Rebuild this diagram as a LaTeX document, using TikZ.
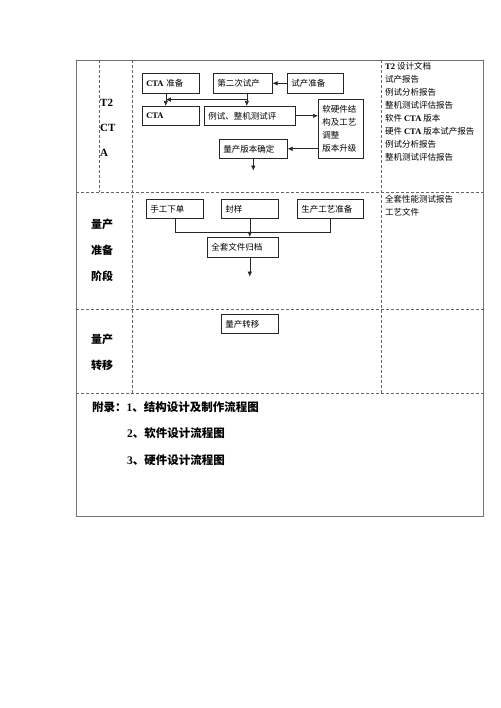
\documentclass[tikz,border=0pt]{standalone}
\usepackage{fontspec}
\setmainfont{Liberation Serif}
\newfontfamily\zh{Noto Sans CJK SC}
\usetikzlibrary{arrows.meta}

\newcommand\en[1]{{\rmfamily\bfseries #1}}

\begin{document}
\begin{tikzpicture}[x=1pt,y=-1pt]
\tikzset{
    frame/.style={draw=black!55, line width=.6pt},
    cell line/.style={black!60, line width=.5pt, dash pattern=on 3pt off 2pt},
    box/.style={draw=black!85, line width=.6pt, anchor=north west, inner xsep=4pt, inner ysep=0pt,
        text width=#1, align=left, minimum height=19pt, font=\zh\fontsize{8.5}{13}\selectfont},
    link/.style={black!85, line width=.6pt, -{Latex[length=5pt,width=4.5pt]}},
    stage/.style={anchor=west, inner sep=0pt, align=left},
    docs/.style={anchor=north west, inner sep=0pt, align=left, font=\zh\fontsize{8.5}{13}\selectfont}}

\useasboundingbox (0,0) rectangle (500,708);

% table
\draw[frame] (76,60) rectangle (483,516);
\foreach \y in {192,309,393}{
    \draw[cell line] (76,\y)--(483,\y);
}
\draw[cell line] (99,60)--(99,192);
\foreach \x in {132,381}{
    \draw[cell line] (\x,60)--(\x,393);
}

% stages
\node[stage, font=\bfseries\fontsize{11}{25}\selectfont] (stcta) at (100,128) {T2\\CT\\A};
\node[stage, font=\zh\bfseries\fontsize{11}{26}\selectfont] (stprep) at (91,250) {量产\\准备\\阶段};
\node[stage, font=\zh\bfseries\fontsize{11}{26}\selectfont] (stmove) at (91,352) {量产\\转移};

% T2 CTA
\node[box=49, minimum height=20pt] (ctaprep) at (142,73) {\en{CTA} 准备};
\node[box=51, minimum height=20pt] (trial2) at (213,73) {第二次试产};
\node[box=48, minimum height=20pt] (trialprep) at (287,73) {试产准备};
\node[box=49] (cta) at (142,106) {\en{CTA}};
\node[box=83] (test) at (204,106) {例试、整机测试评};
\node[box=37, minimum height=59pt] (adjust) at (318,99) {软硬件结\\构及工艺\\调整\\版本升级};
\node[box=60] (finalver) at (219,139) {量产版本确定};

\draw[link] (trialprep.west)--(trial2.east);
\draw[link] ([xshift=4pt]trial2.south)--([xshift=4pt]trial2.south |- test.north);
\path ([xshift=4pt]trial2.south) ++(0,6) coordinate (j1);
\draw[link] (j1)--([xshift=-5pt]ctaprep.south |- j1);
\draw[link] ([xshift=-5pt]ctaprep.south)--([xshift=-5pt]cta.north);
\draw[link] (test.east)--(test.east -| adjust.west);
\draw[link] (finalver.east -| adjust.west)--(finalver.east);
\draw[link] (finalver.south)--++(0,12)coordinate(out1);

% mass production prep
\node[box=49] (manual) at (146,199) {手工下单};
\node[box=49] (seal) at (221,199) {封样};
\node[box=58] (procprep) at (297,199) {生产工艺准备};
\node[box=63, minimum height=20pt] (archive) at (207,237) {全套文件归档};

\draw[link, -] (manual.south)--++(0,14)coordinate(bus)-|(procprep.south);
\draw[link] (seal.south)--(seal.south |- archive.north);
\draw[link] (seal.south |- archive.south)--++(0,19)coordinate(out2);

% transfer
\node[box=49] (transfer) at (221,314) {量产转移};

% documents
\node[docs] (docscta) at (385,62) {\en{T2} 设计文档\\试产报告\\例试分析报告\\整机测试评估报告\\软件 \en{CTA} 版本\\硬件 \en{CTA} 版本试产报告\\例试分析报告\\整机测试评估报告};
\node[docs] (docsprep) at (385,195) {全套性能测试报告\\工艺文件};

% appendix
\node[stage, font=\zh\bfseries\fontsize{11.5}{26}\selectfont] (appx1) at (92,407) {附录：\en{1}、结构设计及制作流程图};
\node[stage, font=\zh\bfseries\fontsize{11.5}{26}\selectfont] (appx2) at (127,433) {\en{2}、软件设计流程图};
\node[stage, font=\zh\bfseries\fontsize{11.5}{26}\selectfont] (appx3) at (127,460) {\en{3}、硬件设计流程图};

\end{tikzpicture}
\end{document}
